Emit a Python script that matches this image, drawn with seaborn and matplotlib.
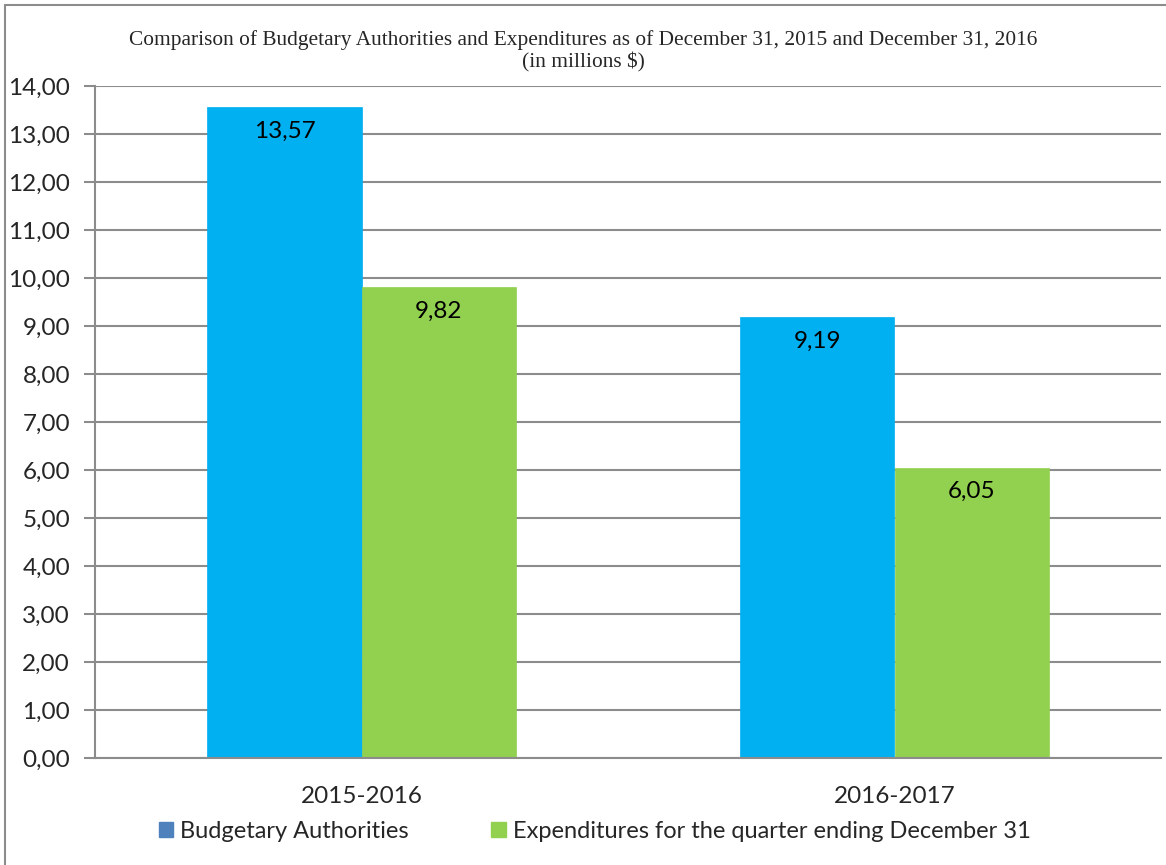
import matplotlib
matplotlib.use("Agg")
import matplotlib.pyplot as plt
import matplotlib.patches as mpatches
import matplotlib.ticker as mticker
import pandas as pd
import seaborn as sns

# Data
periods = ["2015-2016", "2016-2017"]
series = ["Budgetary Authorities", "Expenditures for the quarter ending December 31"]
authorities = [13.57, 9.19]
expenditures = [9.82, 6.05]

bar_colors = ["#00B0F0", "#92D050"]
legend_colors = ["#4F81BD", "#92D050"]
grid_gray = "#8C8C8C"

df = pd.DataFrame({
    "period": periods * 2,
    "series": [series[0]] * 2 + [series[1]] * 2,
    "value": authorities + expenditures,
})

sns.set_style("white")
plt.rcParams["font.family"] = ["Lato", "DejaVu Sans"]

fig = plt.figure(figsize=(11.66, 8.65), dpi=100)
ax = fig.add_axes([95 / 1166, 1 - 758 / 865, (1161 - 95) / 1166, (758 - 86) / 865])

sns.barplot(data=df, x="period", y="value", hue="series", palette=bar_colors,
            width=0.578, saturation=1, ax=ax, legend=False, linewidth=0)
for cont, c in zip(ax.containers, bar_colors):
    for b in cont:
        b.set_edgecolor(c)
        b.set_linewidth(0.5)

# value labels just inside the top of each bar, decimal comma
for cont in ax.containers:
    labels = [f"{b.get_height():.2f}".replace(".", ",") for b in cont]
    ax.bar_label(cont, labels=labels, padding=-25, fontsize=17.5, color="black")

ax.set_ylim(0, 14)
ax.set_xlim(-0.5, 1.5)
ax.yaxis.set_major_locator(mticker.MultipleLocator(1))
ax.yaxis.set_major_formatter(mticker.FuncFormatter(lambda v, p: f"{v:.2f}".replace(".", ",")))
ax.set_axisbelow(True)
ax.grid(axis="y", color=grid_gray, linewidth=1.5)
ax.set_xlabel("")
ax.set_ylabel("")

# category boundary ticks on the x axis
ax.set_xticks([-0.5, 0.5, 1.5], minor=False)
ax.set_xticklabels([])
ax.set_xticks([0, 1], minor=True)
ax.set_xticklabels(periods, minor=True)
ax.tick_params(axis="x", which="major", length=8, width=1.5, color=grid_gray, direction="out")
ax.tick_params(axis="x", which="minor", length=0, labelsize=17.5, pad=20)
ax.tick_params(axis="y", length=8, width=1.5, color=grid_gray, direction="out", labelsize=17.5, pad=10, left=True)

for side in ["top", "right"]:
    ax.spines[side].set_visible(False)
for side in ["left", "bottom"]:
    ax.spines[side].set_color(grid_gray)
    ax.spines[side].set_linewidth(1.5)

fig.text(0.5, 1 - 51 / 865, "Comparison of Budgetary Authorities and Expenditures as of December 31, 2015 and December 31, 2016\n(in millions $)",
         ha="center", va="center", fontsize=15.4, family="Liberation Serif", linespacing=1.15)

handles = [mpatches.Patch(color=c, label=s) for c, s in zip(legend_colors, series)]
fig.legend(handles=handles, loc="center", bbox_to_anchor=(0.51, 1 - 831 / 865), ncol=2,
           frameon=False, fontsize=17, handlelength=0.6, handleheight=0.6,
           handletextpad=0.3, columnspacing=3.5)

# outer chart border
fig.patches.append(mpatches.Rectangle((5 / 1166, -0.01), 1.1, 1 - 5 / 865 + 0.01,
                                      transform=fig.transFigure, fill=False,
                                      edgecolor=grid_gray, linewidth=1.5))

fig.savefig("out.png", dpi=100)
